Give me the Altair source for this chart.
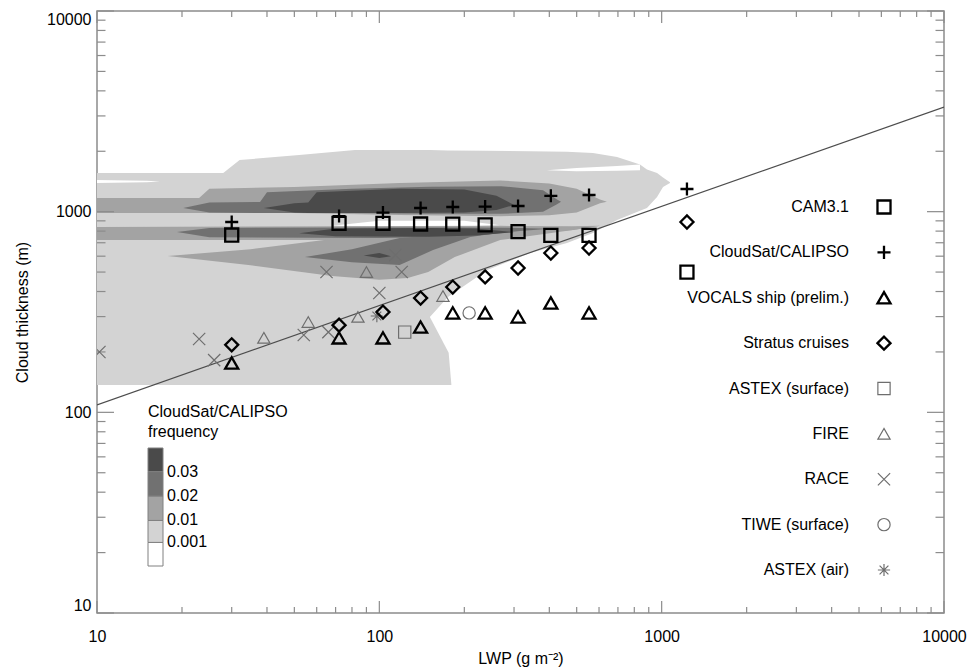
import altair as alt
import pandas as pd

# ---------------- marker series (LWP in g m^-2, cloud thickness in m) ----------------
SERIES = ["CAM3.1", "CloudSat/CALIPSO", "VOCALS ship (prelim.)", "Stratus cruises",
          "ASTEX (surface)", "FIRE", "RACE", "TIWE (surface)", "ASTEX (air)"]
BOLD = SERIES[:4]
THIN = SERIES[4:]

cam_lwp = [30, 72, 103, 140, 182, 237, 310, 405, 553, 1229]
cam_h = [765, 875, 875, 868, 866, 860, 795, 762, 762, 500]

cloudsat_lwp = [30, 72, 103, 140, 182, 237, 310, 405, 553, 1229]
cloudsat_h = [888, 951, 990, 1043, 1055, 1060, 1067, 1200, 1211, 1297]

vocals_lwp = [30, 72, 103, 140, 182, 237, 310, 405, 553]
vocals_h = [176, 235, 235, 266, 313, 313, 299, 351, 313]

stratus_lwp = [30, 72, 103, 140, 182, 237, 310, 405, 553, 1229]
stratus_h = [217, 272, 316, 371, 421, 473, 524, 622, 659, 888]

astex_sfc_lwp = [123]
astex_sfc_h = [251]

fire_lwp = [39, 56, 84, 90, 168]
fire_h = [235, 282, 299, 500, 380]

race_lwp = [10.2, 23, 26, 54, 66, 65, 120, 114, 100]
race_h = [200, 232, 182, 243, 251, 500, 500, 608, 393]

tiwe_lwp = [208]
tiwe_h = [313]

astex_air_lwp = [98]
astex_air_h = [302]

# reference line
fit_lwp = [10, 10000]
fit_h = [109, 3320]

# ---------------- CloudSat/CALIPSO frequency contours (lwp, lower, upper) ----------------
FREQ_THRESHOLDS = [0.001, 0.01, 0.02, 0.03]
FREQ_COLORS = ["#ffffff", "#d3d3d3", "#a3a3a3", "#717171", "#4a4a4a"]

# level 0.001-0.01
l1a_lwp = [10, 28, 32, 52, 82, 150, 151, 175, 241, 342, 462, 571, 695, 838, 887, 963, 1011, 1070]
l1a_low = [137, 137, 137, 137, 137, 137, 299, 376, 512, 622, 698, 783, 909, 1010, 1043, 1183, 1327, 1389]
l1a_high = [1558, 1558, 1809, 1916, 2029, 2029, 2029, 2020, 2010, 2000, 1990, 1960, 1870, 1720, 1620, 1560, 1480, 1400]
l1b_lwp = [146, 151, 176, 180]
l1b_low = [137, 137, 137, 137]
l1b_high = [299, 299, 198, 137]

# gaps (< 0.001)
w1_lwp = [10, 15, 16.7]
w1_low = [1389, 1400, 1412]
w1_high = [1438, 1425, 1412]
w2_lwp = [392, 500, 695, 838]
w2_low = [1610, 1590, 1600, 1610]
w2_high = [1610, 1650, 1690, 1720]
w3_lwp = [68, 100, 200, 268]
w3_low = [850, 845, 845, 855]
w3_high = [850, 900, 900, 855]

# level 0.01-0.02
l2a_lwp = [10, 23, 25, 50, 118, 268, 400, 500, 605, 640]
l2a_low = [985, 985, 985, 985, 962, 950, 960, 990, 1100, 1120]
l2a_high = [1170, 1170, 1300, 1327, 1390, 1430, 1380, 1300, 1150, 1120]
l2b_lwp = [10, 68, 268, 485, 605]
l2b_low = [722, 722, 760, 811, 850]
l2b_high = [839, 845, 850, 845, 850]
l2c_lwp = [17.8, 35, 68, 100, 126, 149, 185, 268, 485, 605]
l2c_low = [601, 540, 478, 458, 467, 500, 594, 722, 811, 850]
l2c_high = [601, 650, 730, 740, 750, 760, 770, 800, 830, 850]

# level 0.02-0.03
l3a_lwp = [20.2, 25, 37.8, 40, 80, 150, 270, 380, 426, 440]
l3a_low = [1043, 990, 985, 985, 985, 975, 975, 1000, 1090, 1120]
l3a_high = [1043, 1110, 1117, 1250, 1300, 1330, 1340, 1280, 1150, 1120]
l3b_lwp = [19.2, 25, 100, 200, 315, 400]
l3b_low = [792, 745, 740, 750, 800, 822]
l3b_high = [792, 829, 835, 835, 830, 822]
l3c_lwp = [54.5, 80, 118, 155, 210, 315]
l3c_low = [594, 560, 542, 644, 747, 811]
l3c_high = [594, 650, 740, 760, 770, 815]

# level > 0.03
l4a_lwp = [39, 50, 56, 60, 118, 200, 260, 300]
l4a_low = [1043, 990, 985, 985, 985, 990, 1020, 1080]
l4a_high = [1043, 1100, 1110, 1250, 1300, 1290, 1200, 1080]
l4b_lwp = [52, 70, 150, 220, 300]
l4b_low = [780, 755, 750, 760, 790]
l4b_high = [780, 825, 830, 825, 790]
l4c_lwp = [88, 100, 110]
l4c_low = [605, 588, 600]
l4c_high = [605, 622, 600]

# axis ticks
AXIS_LABELS = [10, 100, 1000, 10000]
TICK_MINOR = [20, 30, 40, 50, 60, 70, 80, 90,
              200, 300, 400, 500, 600, 700, 800, 900,
              2000, 3000, 4000, 5000, 6000, 7000, 8000, 9000]

# ---------------- styling ----------------
W, H = 847, 602
FONT = "Liberation Sans"
FRAME = "#8c8c8c"
SHAPES = ["square", "M-1,0H1M0,-1V1", "triangle-up", "diamond", "square", "triangle-up",
          "M-1,-1L1,1M-1,1L1,-1", "circle",
          "M-1,0H1M0,-1V1M-0.72,-0.72L0.72,0.72M-0.72,0.72L0.72,-0.72"]
STROKES = ["#000000"] * 4 + ["#6e6e6e"] * 5

xscale = alt.Scale(type="log", domain=[10, 10000], nice=False)
yscale = alt.Scale(type="log", domain=[10, 10000], nice=False)
xaxis = alt.Axis(values=AXIS_LABELS, format="d", title="LWP (g m⁻²)", ticks=False, domain=False,
                 grid=False, labelFlush=False, labelPadding=15, titlePadding=6,
                 labelFontSize=16, titleFontSize=16, titleFontWeight="normal",
                 labelColor="#000", titleColor="#000")
yaxis = alt.Axis(values=AXIS_LABELS, format="d", title="Cloud thickness (m)", ticks=False, domain=False,
                 grid=False, labelFlush=True, labelFlushOffset=0, labelPadding=6, titlePadding=16,
                 labelFontSize=16, titleFontSize=16, titleFontWeight="normal",
                 labelColor="#000", titleColor="#000")


def X(f):
    return alt.X(f, type="quantitative", scale=xscale, axis=xaxis)


def Y(f):
    return alt.Y(f, type="quantitative", scale=yscale, axis=yaxis)


fill_scale = alt.Scale(type="threshold", domain=FREQ_THRESHOLDS, range=FREQ_COLORS)
freq_legend = alt.Legend(type="gradient", direction="vertical", orient="none", legendX=51, legendY=393,
                         title=["CloudSat/CALIPSO", "frequency"], gradientLength=118, gradientThickness=15,
                         gradientStrokeColor="#808080", gradientStrokeWidth=1, labelFontSize=16,
                         titleFontSize=16, titleFontWeight="normal", titleLineHeight=20, titlePadding=8,
                         labelOffset=4, format=".3~f", labelColor="#000", titleColor="#000")


def area_layer(pieces, value):
    rows = []
    for pid, (lw, lo, hi) in enumerate(pieces):
        for a, b, c in zip(lw, lo, hi):
            rows.append({"lwp": a, "low": b, "high": c, "piece": pid, "freq": value})
    df = pd.DataFrame(rows)
    return alt.Chart(df).mark_area(clip=True, interpolate="linear").encode(
        x=X("lwp"), y=Y("low"), y2="high",
        fill=alt.Fill("freq:Q", scale=fill_scale, legend=freq_legend),
        detail="piece:N")


lev1 = area_layer([(l1a_lwp, l1a_low, l1a_high), (l1b_lwp, l1b_low, l1b_high)], 0.005)
gaps = area_layer([(w1_lwp, w1_low, w1_high), (w2_lwp, w2_low, w2_high), (w3_lwp, w3_low, w3_high)], 0.0005)
lev2 = area_layer([(l2a_lwp, l2a_low, l2a_high), (l2b_lwp, l2b_low, l2b_high), (l2c_lwp, l2c_low, l2c_high)], 0.015)
lev3 = area_layer([(l3a_lwp, l3a_low, l3a_high), (l3b_lwp, l3b_low, l3b_high), (l3c_lwp, l3c_low, l3c_high)], 0.025)
lev4 = area_layer([(l4a_lwp, l4a_low, l4a_high), (l4b_lwp, l4b_low, l4b_high), (l4c_lwp, l4c_low, l4c_high)], 0.035)

fit = alt.Chart(pd.DataFrame({"lwp": fit_lwp, "h": fit_h})).mark_line(
    color="#4d4d4d", strokeWidth=1.2, clip=True).encode(x=X("lwp"), y=Y("h"))


# inward ticks on all four sides
def tick_layers(vals, xlen, ylen):
    df = pd.DataFrame({"v": vals})
    base = alt.Chart(df).mark_rule(color=FRAME, strokeWidth=1.2)
    return [
        base.encode(x=X("v"), y=alt.value(H), y2=alt.value(H - xlen)),
        base.encode(x=X("v"), y=alt.value(0), y2=alt.value(xlen)),
        base.encode(y=Y("v"), x=alt.value(0), x2=alt.value(ylen)),
        base.encode(y=Y("v"), x=alt.value(W), x2=alt.value(W - ylen)),
    ]


ticks = tick_layers(AXIS_LABELS, 12, 17) + tick_layers(TICK_MINOR, 6, 8.5)

# markers
pt_rows = []
for name, lw, hh in [("CAM3.1", cam_lwp, cam_h), ("CloudSat/CALIPSO", cloudsat_lwp, cloudsat_h),
                     ("VOCALS ship (prelim.)", vocals_lwp, vocals_h), ("Stratus cruises", stratus_lwp, stratus_h),
                     ("ASTEX (surface)", astex_sfc_lwp, astex_sfc_h), ("FIRE", fire_lwp, fire_h),
                     ("RACE", race_lwp, race_h), ("TIWE (surface)", tiwe_lwp, tiwe_h),
                     ("ASTEX (air)", astex_air_lwp, astex_air_h)]:
    for a, b in zip(lw, hh):
        pt_rows.append({"series": name, "lwp": a, "h": b})
pts = pd.DataFrame(pt_rows)

shape_enc = alt.Shape("series:N", scale=alt.Scale(domain=SERIES, range=SHAPES), legend=None)
stroke_enc = alt.Stroke("series:N", scale=alt.Scale(domain=SERIES, range=STROKES), legend=None)

thin_pts = alt.Chart(pts[pts.series.isin(THIN)]).mark_point(
    filled=False, size=150, strokeWidth=1.2, opacity=1, clip=True).encode(
    x=X("lwp"), y=Y("h"), shape=shape_enc, stroke=stroke_enc)
bold_pts = alt.Chart(pts[pts.series.isin(BOLD)]).mark_point(
    filled=False, size=170, strokeWidth=2.3, opacity=1, clip=True).encode(
    x=X("lwp"), y=Y("h"), shape=shape_enc, stroke=stroke_enc)

inner = alt.layer(lev1, gaps, lev2, lev3, lev4, fit, *ticks, thin_pts, bold_pts)

# in-plot marker legend
leg_df = pd.DataFrame({"series": SERIES})
leg_y = alt.Y("series:N", sort=SERIES, scale=alt.Scale(domain=SERIES, range=[196, 559], padding=0), axis=None)
leg_bold = alt.Chart(leg_df[leg_df.series.isin(BOLD)]).mark_point(
    filled=False, size=170, strokeWidth=2.3, opacity=1).encode(
    x=alt.value(787), y=leg_y, shape=shape_enc, stroke=stroke_enc)
leg_thin = alt.Chart(leg_df[leg_df.series.isin(THIN)]).mark_point(
    filled=False, size=150, strokeWidth=1.2, opacity=1).encode(
    x=alt.value(787), y=leg_y, shape=shape_enc, stroke=stroke_enc)
leg_text = alt.Chart(leg_df).mark_text(align="right", baseline="middle", fontSize=16, color="#000",
                                       font=FONT).encode(
    x=alt.value(752), y=leg_y, text="series:N")
legend_layer = alt.layer(leg_bold, leg_thin, leg_text)

chart = alt.layer(inner, legend_layer).resolve_scale(y="independent").properties(
    width=W, height=H,
    padding={"left": 97, "top": 11, "right": 26, "bottom": 58},
    autosize=alt.AutoSizeParams(type="none"),
).configure_view(stroke=FRAME, strokeWidth=1.5).configure_axis(
    labelFont=FONT, titleFont=FONT).configure_legend(
    labelFont=FONT, titleFont=FONT).configure_text(font=FONT)

chart.save("out.html", embed_options={"renderer": "svg", "actions": False})
